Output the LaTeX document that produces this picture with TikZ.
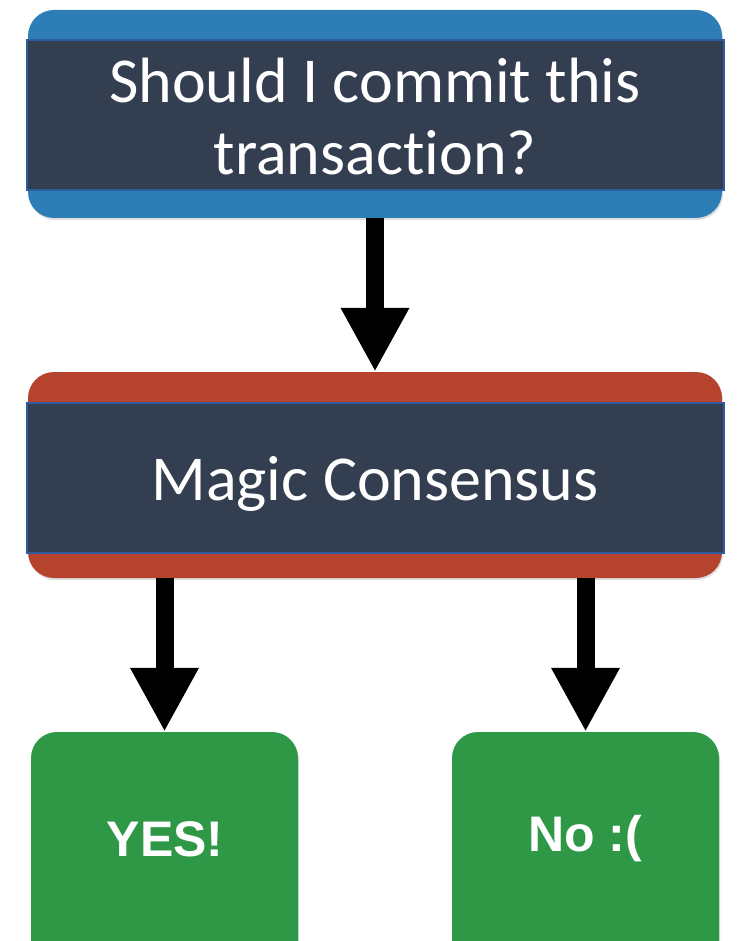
\documentclass[tikz,border=0pt]{standalone}
\usepackage{fontspec}
\setmainfont{Carlito}[Ligatures={NoCommon,NoRequired,NoContextual}]
\newfontfamily\boldsans{Liberation Sans}
\usetikzlibrary{arrows.meta,shadows}
\definecolor{qblue}{RGB}{45,126,182}
\definecolor{cred}{RGB}{181,67,46}
\definecolor{okgreen}{RGB}{46,152,70}
\definecolor{slate}{RGB}{52,62,81}
\definecolor{rim}{RGB}{46,90,160}
\tikzset{
  x=1pt, y=-1pt,
  outerbox/.style={rounded corners=26pt, inner sep=0pt,
    drop shadow={shadow xshift=1pt, shadow yshift=-2pt, opacity=.25}},
  band/.style={fill=slate, draw=rim, line width=1.2pt, inner sep=0pt},
  bandtext/.style={text=white, align=center, font=\fontsize{64}{72}\selectfont},
  leaf/.style={outerbox, fill=okgreen, minimum width=267pt, minimum height=240pt},
  leaftext/.style={text=white, font=\boldsans\bfseries\fontsize{50}{60}\selectfont},
  flow/.style={line width=18pt, -{Triangle[width=64pt,length=64pt]}}
}
\begin{document}
\begin{tikzpicture}
\clip (0,0) rectangle (737,941);
\fill[white] (0,0) rectangle (737,941);

% question box
\node[outerbox, fill=qblue, minimum width=694pt, minimum height=208pt] (q) at (375,114) {};
\node[band, minimum width=697pt, minimum height=150pt] (qb) at (375.5,115) {};
\node[bandtext] (qt) at (375,117) {Should I commit this\\transaction?};

% consensus box
\node[outerbox, fill=cred, minimum width=694pt, minimum height=206pt] (m) at (375,475) {};
\node[band, minimum width=697pt, minimum height=150pt] (mb) at (375.5,478) {};
\node[bandtext] (mt) at (375,484) {Magic Consensus};

% outcome boxes
\node[leaf] (y) at (164.5,852) {};
\node[leaf] (n) at (585.5,852) {};
\node[leaftext] (yt) at (165,839) {YES!};
\node[leaftext] (nt) at (585,839) {No :(};

% arrows
\draw[flow] (q.south) -- (m.north);
\draw[flow] (y.north |- m.south) -- (y.north);
\draw[flow] (n.north |- m.south) -- (n.north);
\end{tikzpicture}
\end{document}
